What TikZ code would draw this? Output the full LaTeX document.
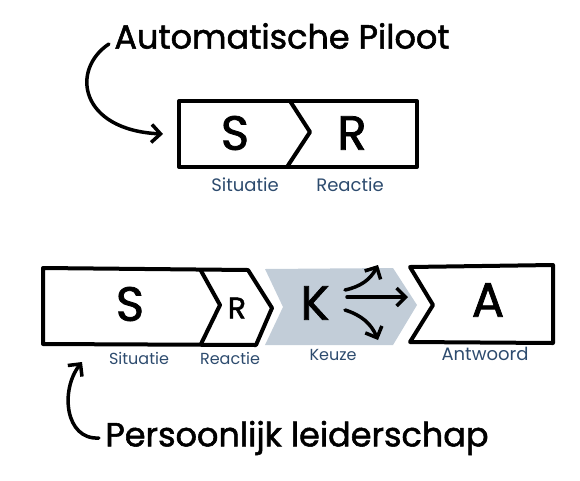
\documentclass[tikz,border=0pt]{standalone}
\usepackage{fontspec}
\setmainfont{Poppins}
\newfontfamily\handfont{Poppins}[FakeBold=1.6]
\usetikzlibrary{arrows.meta}
\definecolor{labelblue}{HTML}{2D4B6E}
\definecolor{choicegray}{HTML}{C2CDD8}
\tikzset{
  box/.style={line width=4pt, line join=round},
  big/.style={font=\fontsize{48}{48}\handfont},
  small/.style={font=\fontsize{30}{30}\handfont},
  lbl/.style={text=labelblue, font=\fontsize{18}{18}\selectfont},
  smalllbl/.style={lbl, font=\fontsize{16}{16}\selectfont},
  title/.style={font=\fontsize{33.5}{33.5}\handfont},
  hand/.style={-{Straight Barb[length=9pt,width=18pt,line width=3.5pt]}, line width=3.5pt, line cap=round}
}
\begin{document}
\begin{tikzpicture}[x=1pt,y=-1pt]
\useasboundingbox (0,0) rectangle (580,480);
% automatische piloot
\node[title] (pilot) at (282,36) {Automatische Piloot};
\node[draw, box, minimum width=238pt, minimum height=66pt, inner sep=0pt] (pilotbox) at (298,134) {};
\draw[box] (290,101) -- (310,132) -- (287,167);
\node[big] (s1) at (235,133) {S};
\node[big] (r1) at (352,133) {R};
\node[lbl] (sit1) at (245,185) {Situatie};
\node[lbl] (rea1) at (350,185) {Reactie};
\draw[hand] ([xshift=-2pt,yshift=-8pt]pilot.west) .. controls (70,70) and (80,130) .. ([xshift=-14pt]pilotbox.west);

% persoonlijk leiderschap
\draw[box] (43,268) -- (248,270) -- (272,308) -- (256,345) -- (43,344) -- cycle;
\draw[box] (200,269) -- (220,305) -- (201,344);
\fill[choicegray] (265,269) -- (393,268) -- (417,305) -- (393,345) -- (265,345) -- (283,307) -- cycle;
\draw[box] (410,267) -- (553,265) -- (553,343) -- (410,342) -- (433,305) -- cycle;
\node[big] (s2) at (130,304) {S};
\node[small] (r2) at (237,308) {R};
\node[big] (k) at (315,303) {K};
\node[big] (a) at (488,300) {A};
\coordinate (up) at (378,265);
\coordinate (mid) at (408,297);
\coordinate (down) at (378,340);
\draw[hand] (345,290) to[bend right=25] (up);
\draw[hand] (347,297) -- (mid);
\draw[hand] (345,310) to[bend left=25] (down);
\node[smalllbl] (sit2) at (139,358) {Situatie};
\node[smalllbl] (rea2) at (230,358) {Reactie};
\node[smalllbl] (keu) at (333,355) {Keuze};
\node[lbl] (antw) at (485,354) {Antwoord};
\node[title] (leider) at (297,438) {Persoonlijk leiderschap};
\coordinate (leiderin) at (82,362);
\draw[hand] ([xshift=-3pt]leider.west) .. controls (65,440) and (60,390) .. (leiderin);
\end{tikzpicture}
\end{document}
